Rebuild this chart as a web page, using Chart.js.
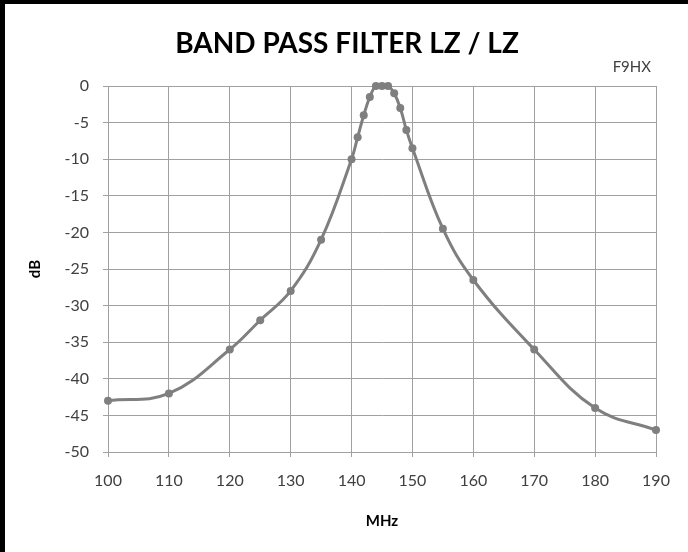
<!DOCTYPE html>
<html lang="fr">
<head>
  <meta charset="UTF-8">
  <title>Band Pass Filter LZ / LZ</title>
  <style>
    html, body { margin: 0; padding: 0; background: #fff; }
    #wrap { position: relative; width: 688px; height: 552px; overflow: hidden; }
    #chart { position: absolute; left: 0; top: 0; }
    #frame { position: absolute; left: 0; top: 0; width: 683px; height: 548px;
             border-left: 5px solid #000; border-top: 4px solid #000; pointer-events: none; }
  </style>
</head>
<body>
<div id="wrap">
  <canvas id="chart" width="688" height="552"></canvas>
  <div id="frame"></div>
</div>

<script src="https://cdn.jsdelivr.net/npm/chart.js@4/dist/chart.umd.min.js"></script>
<script>
  // measured response of the filter
  const freqMHz = [100, 110, 120, 125, 130, 135, 140, 141, 142, 143, 144, 145, 146,
                   147, 148, 149, 150, 155, 160, 170, 180, 190];
  const gainDB = [-43, -42, -36, -32, -28, -21, -10, -7, -4, -1.5, 0, 0, 0,
                  -1, -3, -6, -8.5, -19.5, -26.5, -36, -44, -47];

  const xTicks = [100, 110, 120, 130, 140, 150, 160, 170, 180, 190];
  const yTicks = [0, -5, -10, -15, -20, -25, -30, -35, -40, -45, -50];

  const chartTitle = 'BAND PASS FILTER LZ / LZ';
  const author = 'F9HX';

  const FONT = 'Lato, "Open Sans", sans-serif';
  const GREY = '#7f7f7f';
  const GRID = '#a0a0a0';

  // title and call sign drawn over the top band
  const headerText = {
    id: 'headerText',
    afterDraw(chart) {
      const ctx = chart.ctx;
      ctx.save();
      ctx.fillStyle = '#000';
      ctx.textAlign = 'center';
      ctx.textBaseline = 'middle';
      ctx.font = 'bold 28px ' + FONT;
      ctx.fillText(chartTitle, 347, 44);
      ctx.fillStyle = '#404040';
      ctx.textAlign = 'right';
      ctx.font = '15px ' + FONT;
      ctx.fillText(author, 651, 67);
      ctx.restore();
    }
  };

  new Chart(document.getElementById('chart'), {
    type: 'scatter',
    data: {
      datasets: [{
        label: 'dB',
        data: freqMHz.map((f, i) => ({ x: f, y: gainDB[i] })),
        showLine: true,
        tension: 0.4,
        clip: false,
        borderColor: GREY,
        backgroundColor: GREY,
        borderWidth: 3,
        pointRadius: 4,
        pointBorderWidth: 0
      }]
    },
    options: {
      responsive: false,
      animation: false,
      layout: { padding: { left: 0, right: 32, top: 86, bottom: 0 } },
      plugins: { legend: { display: false }, tooltip: { enabled: false } },
      scales: {
        x: {
          type: 'linear',
          min: 100,
          max: 190,
          afterBuildTicks: s => { s.ticks = xTicks.map(v => ({ value: v })); },
          afterFit: s => { s.height = 100; },
          grid: { color: GRID, tickLength: 5 },
          border: { color: GRID },
          ticks: { color: '#404040', font: { family: FONT, size: 16 }, padding: 14 },
          title: { display: true, text: 'MHz', color: '#000',
                   font: { family: FONT, size: 15, weight: 'bold' }, padding: { bottom: 22 } }
        },
        y: {
          min: -50,
          max: 0,
          afterBuildTicks: s => { s.ticks = yTicks.map(v => ({ value: v })); },
          afterFit: s => { s.width = 108; },
          grid: { color: GRID, tickLength: 5 },
          border: { color: GRID },
          ticks: { color: '#404040', font: { family: FONT, size: 16 }, padding: 14 },
          title: { display: true, text: 'dB', color: '#000',
                   font: { family: FONT, size: 15, weight: 'bold' }, padding: { top: 26 } }
        }
      }
    },
    plugins: [headerText]
  });
</script>
</body>
</html>
